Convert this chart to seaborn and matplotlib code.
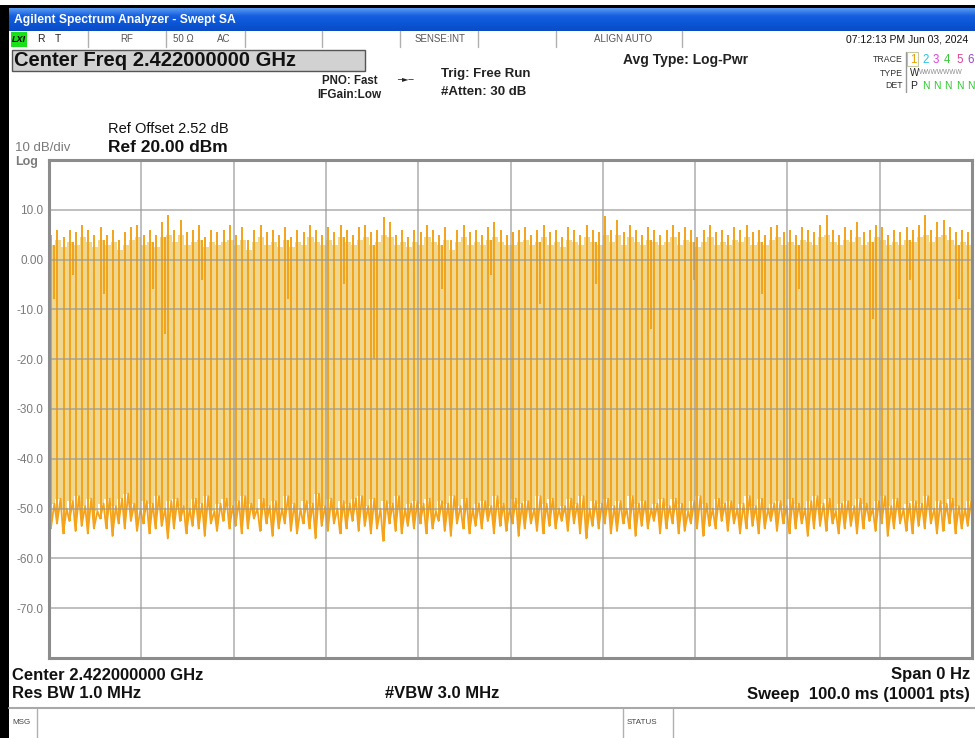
import numpy as np
import pandas as pd
import matplotlib
matplotlib.use("Agg")
import matplotlib.pyplot as plt
import seaborn as sns
from matplotlib.patches import Rectangle
from matplotlib.lines import Line2D
from matplotlib.colors import LinearSegmentedColormap
from matplotlib import font_manager as fm

# ---------------- data ----------------
SWEEP_MS = 100.0
N_PULSES = 150
Y_TICKS = [10, 0, -10, -20, -30, -40, -50, -60, -70]
Y_TICK_LABELS = ["10.0", "0.00", "-10.0", "-20.0", "-30.0", "-40.0", "-50.0", "-60.0", "-70.0"]

# burst peak level of each pulse (dBm)
peak_dbm = [5, 6, 4.5, 6, 5.5, 7, 6, 5, 6.5, 5,
            6, 4, 5.5, 6.5, 7, 5, 6, 5, 7.5, 9,
            6, 8, 5.5, 6, 7, 4.5, 6, 5.5, 6, 7,
            5, 6.5, 4, 6, 7, 5.5, 6, 5, 6.5, 4.5,
            6, 5.5, 7, 6, 5, 6.5, 5.5, 7, 6, 5,
            6.5, 7, 5.5, 6, 8.5, 7.5, 5, 6, 4.5, 6,
            5.5, 7, 6, 5, 6.5, 4, 6, 7, 5.5, 6,
            5, 6.5, 7.5, 6, 5, 5.5, 6, 6.5, 5, 6,
            7, 5.5, 6, 4.5, 6.5, 6, 5, 7, 6, 5.5,
            8.8, 6, 8, 5.5, 7, 6, 5, 6.5, 6, 5,
            6, 7, 5.5, 6.5, 6, 4.5, 6, 7, 5.5, 6,
            5, 6.5, 6, 7, 5.5, 6, 5, 6.5, 7, 5.5,
            6, 5, 6.5, 6, 5.5, 7, 9, 6, 5, 6.5,
            6, 7.5, 5.5, 6, 7, 6.5, 5, 6, 5.5, 6.5,
            6, 7, 9, 6, 7.5, 8, 6.5, 5.5, 6, 5.5]

# level of the dense burst body (dBm)
body_dbm = [3, 4, 2.5, 3.5, 3, 4.5, 3.5, 2.5, 4, 3,
            3.5, 2, 3, 4, 4.5, 3, 3.5, 2.5, 4.5, 5,
            3.5, 5, 3, 3.5, 4, 2.5, 3.5, 3, 3.5, 4,
            3, 4, 2, 3.5, 4.5, 3, 3.5, 2.5, 4, 2.5,
            3.5, 3, 4.5, 3.5, 3, 4, 3, 4.5, 3.5, 3,
            4, 4.5, 3, 3.5, 5, 4.5, 3, 3.5, 2.5, 3.5,
            3, 4.5, 3.5, 3, 4, 2, 3.5, 4.5, 3, 3.5,
            3, 4, 4.5, 3.5, 3, 3, 3.5, 4, 3, 3.5,
            4.5, 3, 3.5, 2.5, 4, 3.5, 3, 4.5, 3.5, 3,
            5, 3.5, 5, 3, 4.5, 3.5, 3, 4, 3.5, 3,
            3.5, 4.5, 3, 4, 3.5, 2.5, 3.5, 4.5, 3, 3.5,
            3, 4, 3.5, 4.5, 3, 3.5, 3, 4, 4.5, 3,
            3.5, 3, 4, 3.5, 3, 4.5, 5, 3.5, 3, 4,
            3.5, 4.5, 3, 3.5, 4.5, 4, 3, 3.5, 3, 4,
            3.5, 4.5, 5, 3.5, 4.5, 5, 4, 3, 3.5, 3]

# lowest point of the off-time noise floor (dBm)
floor_lo_dbm = [-54, -53, -55, -52.5, -54.5, -53.5, -55, -54, -52, -54,
                -55.5, -53, -54, -52.5, -54.5, -53, -55, -54, -53.5, -56,
                -54, -52.5, -55, -53.5, -54, -55.5, -53, -54.5, -52.5, -54,
                -53.5, -55, -54, -52, -54.5, -53, -55.5, -54, -53, -54.5,
                -55, -53, -54, -56, -53.5, -54.5, -53, -55, -54, -52.5,
                -54.5, -53.5, -55, -54, -56.5, -53, -54.5, -55, -53.5, -54,
                -53, -55, -54, -52.5, -54.5, -55.5, -53, -54, -55, -53.5,
                -54, -52.5, -55, -53.5, -54.5, -53, -55.5, -54, -53, -54.5,
                -55, -53.5, -54, -52.5, -54.5, -53, -55, -56, -53.5, -54,
                -53, -55, -54.5, -53, -54, -55.5, -53.5, -54, -52.5, -55,
                -54, -53, -55, -54.5, -53, -54, -55.5, -53.5, -54, -52.5,
                -54.5, -53, -55, -54, -53.5, -55, -54, -52.5, -54.5, -53,
                -55, -54, -53, -55.5, -54, -53.5, -54.5, -53, -55, -54,
                -53.5, -55, -54, -52.5, -54.5, -53, -55.5, -54, -53, -54.5,
                -55, -53.5, -54, -53, -55, -54.5, -53, -55, -54, -53.5]

# upper edge of the off-time noise floor (dBm)
floor_hi_dbm = [-49, -48, -50, -48.5, -47.5, -49.5, -48, -50.5, -49, -48,
                -49.5, -48, -47, -49, -50, -48.5, -49, -47.5, -50, -48.5,
                -48, -49.5, -50, -48, -49, -47.5, -50.5, -49, -48, -49.5,
                -48.5, -47.5, -49, -50, -48, -49.5, -48.5, -50, -47.5, -49,
                -50, -48.5, -49, -47, -49.5, -48, -50, -48.5, -49, -48,
                -47.5, -49.5, -48, -50, -48.5, -49, -47.5, -50, -49, -48.5,
                -49, -48, -50.5, -48.5, -49, -47.5, -49.5, -48, -50, -49,
                -48.5, -49.5, -47.5, -49, -50, -48, -49, -48.5, -50, -47.5,
                -49, -48, -50, -49.5, -48, -49, -47.5, -50, -48.5, -49,
                -48, -49.5, -48.5, -50, -47.5, -49, -48.5, -50, -49, -48,
                -49.5, -48, -49, -50.5, -48.5, -47.5, -49, -50, -48, -49,
                -48.5, -50, -49, -47.5, -49.5, -48, -50, -49, -48.5, -49.5,
                -48, -49, -50, -48.5, -47.5, -49, -48, -50.5, -49, -48.5,
                -49.5, -48, -49, -50, -48.5, -47.5, -49.5, -48, -50, -49,
                -48.5, -49, -47.5, -50, -48.5, -49, -48, -49.5, -50, -48.5]

# short partial dips inside bursts: pulse index and dip depth (dBm)
dip_index = [0, 3, 8, 16, 18, 24, 38, 47, 52, 63, 71, 79, 88, 97, 104, 115, 121, 133, 139, 147]
dip_dbm = [-8, -3, -7, -6, -15, -4, -8, -5, -20, -6, -3, -9, -5, -14, -4, -7, -6, -12, -4, -8]

# ---------------- styling ----------------
sns.set_theme(style="white")
avail = {f.name for f in fm.fontManager.ttflist}
BASE = ["Liberation Sans", "DejaVu Sans"]
NARROW = ["Liberation Sans Narrow", "Liberation Sans", "DejaVu Sans"]
narrow_ok = "Liberation Sans Narrow" in avail
plt.rcParams["font.family"] = BASE

W, H = 975, 738
fig = plt.figure(figsize=(W / 100, H / 100), dpi=100)
fig.patch.set_facecolor("white")

ORANGE = "#f4a31a"
PALE = "#efd78f"
GRAYTXT = "#7a7a7a"


def fx(x):
    return x / W


def fy(y):
    return 1 - y / H


def T(x, y, s, **kw):
    kw.setdefault("va", "center")
    kw.setdefault("ha", "left")
    kw.setdefault("family", BASE)
    fig.text(fx(x), fy(y), s, **kw)


def R(x, y, w, h, **kw):
    fig.add_artist(Rectangle((fx(x), fy(y + h)), w / W, h / H,
                             transform=fig.transFigure, **kw))


def L(x0, y0, x1, y1, **kw):
    fig.add_artist(Line2D([fx(x0), fx(x1)], [fy(y0), fy(y1)],
                          transform=fig.transFigure, **kw))


# ---------------- plot area ----------------
ax = fig.add_axes([fx(49), fy(658), (972 - 49) / W, (658 - 160) / H])
ax.set_xlim(0, SWEEP_MS)
ax.set_ylim(-80, 20)

period = SWEEP_MS / N_PULSES
t_pulse = np.arange(N_PULSES) * period + 0.25
edges = np.arange(N_PULSES + 1) * period

# dense burst body
ax.fill_between(edges, floor_hi_dbm + [floor_hi_dbm[-1]], body_dbm + [body_dbm[-1]],
                step="post", color=PALE, lw=0, zorder=1)

# noise floor trace (zigzag between low and high edge)
t_floor, v_floor = [], []
for i in range(N_PULSES):
    t_floor += [t_pulse[i] - 0.05, t_pulse[i] + period * 0.5]
    v_floor += [floor_lo_dbm[i], floor_hi_dbm[i]]
df_floor = pd.DataFrame({"t": t_floor, "dBm": v_floor})
sns.lineplot(data=df_floor, x="t", y="dBm", estimator=None, sort=False,
             color=ORANGE, lw=1.3, ax=ax, zorder=2)

# burst edges
ax.vlines(t_pulse, floor_lo_dbm, peak_dbm, color=ORANGE, lw=1.4, zorder=2)
# partial dips
ax.vlines([t_pulse[i] + period * 0.5 for i in dip_index],
          dip_dbm, [body_dbm[i] for i in dip_index], color=ORANGE, lw=1.4, zorder=2)

ax.set_xlabel("")
ax.set_ylabel("")
ax.set_xticks(np.arange(10, 100, 10))
ax.set_xticklabels([])
ax.set_yticks(Y_TICKS)
ax.set_yticklabels(Y_TICK_LABELS)
ax.tick_params(axis="both", length=0)
ax.tick_params(axis="y", pad=4, labelcolor=GRAYTXT, labelsize=8.5)
for lab in ax.get_yticklabels():
    lab.set_family(BASE)
ax.grid(True, color="#9a9a9a", lw=1.1, alpha=0.8, zorder=3)
ax.set_axisbelow(False)
for s in ax.spines.values():
    s.set_color("#8c8c8c")
    s.set_linewidth(2.2)
    s.set_zorder(4)

# ---------------- window chrome ----------------
R(0, 0, W, 5, color="white", lw=0)
R(0, 5, W, 3, color="black", lw=0)
R(0, 5, 9, H - 5, color="black", lw=0)

tb = fig.add_axes([fx(9), fy(31), (W - 9) / W, 23 / H])
cmap = LinearSegmentedColormap.from_list("tb", ["#5a9af2", "#1560e0", "#0b55d6", "#0a4cc6"])
tb.imshow(np.linspace(0, 1, 40).reshape(-1, 1), aspect="auto", cmap=cmap,
          extent=[0, 1, 0, 1])
tb.axis("off")
T(14, 19.5, "Agilent Spectrum Analyzer - Swept SA", color="white", size=8.7,
  weight="bold")

# status row
R(11, 32, 16, 15, color="#19e019", lw=0)
T(12, 39.5, "LXI", size=6.5, weight="bold", style="italic", color="black")
T(37, 39.5, "R", size=7.5, color="#222")
T(55, 39.5, "T", size=7.5, color="#222")
T(127, 39.5, "RF", size=7, color="#555", ha="center")
T(173, 39.5, "50 Ω", size=7, color="#555")
T(217, 39.5, "AC", size=7, color="#555")
T(440, 39.5, "SENSE:INT", size=7, color="#555", ha="center")
T(623, 39.5, "ALIGN AUTO", size=7, color="#555", ha="center")
T(968, 40, "07:12:13 PM Jun 03, 2024", size=7.5, color="#111", ha="right")
for xs in [88, 166, 245, 322, 400, 478, 556, 682]:
    L(xs, 31, xs, 47, color="#b0b0b0", lw=1)

# center freq box
R(12, 50, 353, 21, facecolor="#d2d2d2", edgecolor="#555555", lw=1)
T(14, 61, "Center Freq 2.422000000 GHz", size=14.5, weight="bold", color="#111")

T(322, 81, "PNO: Fast", size=8.3, weight="bold", color="#222")
T(317, 95, "IFGain:Low", size=8.5, weight="bold", color="#222")
T(397, 79, "─►─", size=6, color="#222", family=["DejaVu Sans"])
T(441, 74, "Trig: Free Run", size=9.5, weight="bold", color="#222")
T(441, 92, "#Atten: 30 dB", size=9.5, weight="bold", color="#222")
T(623, 60, "Avg Type: Log-Pwr", size=10, weight="bold", color="#222")

# trace table
T(903, 59, "TRACE", size=6.3, color="#333", ha="right")
T(903, 73, "TYPE", size=6.3, color="#333", ha="right")
T(903, 86, "DET", size=6.3, color="#333", ha="right")
L(906, 52, 906, 92, color="#9a9a9a", lw=1)
R(907, 52, 11, 14, facecolor="none", edgecolor="#c8c8a0", lw=0.8)
digit_colors = ["#e6a000", "#25c3e6", "#e03fe0", "#3cc83c", "#e0409a", "#9b45c8"]
digit_x = [910, 922, 933, 944, 956, 967]
for d, (c, x) in enumerate(zip(digit_colors, digit_x)):
    T(x, 60, str(d + 1), size=8.3, color=c)
T(910, 73, "W", size=7, color="#222")
T(919, 73, "WWWWWWW", size=4.8, color="#8a8a8a")
T(910, 86, "P", size=7.5, color="#222")
for x in digit_x[1:]:
    T(x, 86, "N", size=7.5, color="#2ccc2c")

# reference info
T(108, 129, "Ref Offset 2.52 dB", size=10.5, color="#111")
T(108, 147, "Ref 20.00 dBm", size=12.5, weight="bold", color="#111")
T(15, 148, "10 dB/div", size=9.5, color=GRAYTXT)
T(15, 162, "Log", size=9, color=GRAYTXT, weight="bold")

# bottom annotations
bfam = NARROW if narrow_ok else BASE
bsize = 13.5 if narrow_ok else 12
bkw = dict(size=bsize, weight="bold", color="#111", family=bfam)
T(12, 675, "Center 2.422000000 GHz", **bkw)
T(970, 675, "Span 0 Hz", ha="right", **bkw)
T(12, 694, "Res BW 1.0 MHz", **bkw)
T(385, 694, "#VBW 3.0 MHz", **bkw)
T(970, 694, "Sweep  100.0 ms (10001 pts)", ha="right", **bkw)

# message bar
L(9, 708, W, 708, color="#a8a8a8", lw=1.5)
L(37, 709, 37, H, color="#b0b0b0", lw=1)
L(623, 709, 623, H, color="#b0b0b0", lw=1)
L(673, 709, 673, H, color="#b0b0b0", lw=1)
T(12, 722, "MSG", size=5.8, color="#444")
T(627, 722, "STATUS", size=5.8, color="#444")

fig.savefig("out.png", dpi=100, facecolor="white")
